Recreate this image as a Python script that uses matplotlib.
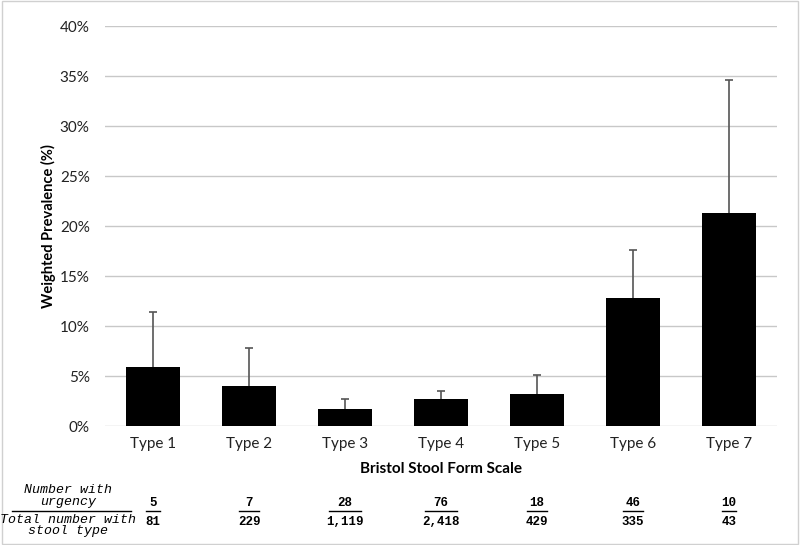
import matplotlib
matplotlib.use("Agg")
import matplotlib.pyplot as plt
from matplotlib.ticker import FuncFormatter
from matplotlib.patches import Rectangle

categories = ["Type 1", "Type 2", "Type 3", "Type 4", "Type 5", "Type 6", "Type 7"]
prevalence = [5.9, 4.0, 1.7, 2.7, 3.2, 12.8, 21.3]
upper_err = [5.5, 3.8, 1.0, 0.8, 1.9, 4.8, 13.3]
n_urgency = ["5", "7", "28", "76", "18", "46", "10"]
n_total = ["81", "229", "1,119", "2,418", "429", "335", "43"]

fig = plt.figure(figsize=(8.0, 5.45), dpi=100)
ax = fig.add_axes([105/800, 1 - 426/545, 672/800, 400/545])

x = list(range(len(categories)))
eb = ax.errorbar(x, prevalence, yerr=[[0]*len(x), upper_err], fmt="none",
                 ecolor="#555555", elinewidth=1.2, capsize=3, capthick=1.2, zorder=2)
caps = eb[1]
if len(caps) == 2:
    caps[0].set_visible(False)
ax.bar(x, prevalence, width=0.57, color="black", zorder=3)

ax.set_xlim(-0.5, len(x) - 0.5)
ax.set_ylim(0, 40)
ax.set_yticks(range(0, 41, 5))
ax.yaxis.set_major_formatter(FuncFormatter(lambda v, p: f"{int(v)}%"))
ax.grid(axis="y", color="#c8c8c8", linewidth=1, zorder=0)
for s in ax.spines.values():
    s.set_visible(False)
ax.tick_params(axis="both", length=0, labelsize=11, colors="#222222", pad=8)
ax.tick_params(axis="y", pad=11)
ax.set_xticks(x)
ax.set_xticklabels(categories, family="Lato")
for lab in ax.get_yticklabels():
    lab.set_family("Lato")

ax.set_ylabel("Weighted Prevalence (%)", fontsize=10.5, fontweight="bold",
              family="Lato", labelpad=3)
ax.set_xlabel("Bristol Stool Form Scale", fontsize=11, fontweight="bold",
              family="Lato", labelpad=8)

# bottom table
def fy(py):
    return 1 - py / 545

mono = "Liberation Mono"
fig.text(68/800, fy(490), "Number with", ha="center", va="center",
         fontsize=9.5, style="italic", family=mono)
fig.text(68/800, fy(502), "urgency", ha="center", va="center",
         fontsize=9.5, style="italic", family=mono)
fig.add_artist(plt.Line2D([12/800, 131/800], [fy(511), fy(511)], color="black", lw=1))
fig.text(68/800, fy(520), "Total number with", ha="center", va="center",
         fontsize=9.5, style="italic", family=mono)
fig.text(68/800, fy(531), "stool type", ha="center", va="center",
         fontsize=9.5, style="italic", family=mono)

for i in x:
    xc = ax.transData.transform((i, 0))[0] / fig.bbox.width
    fig.text(xc, fy(503), n_urgency[i], ha="center", va="center",
             fontsize=9, fontweight="bold", family=mono)
    fig.text(xc, fy(522), n_total[i], ha="center", va="center",
             fontsize=9, fontweight="bold", family=mono)
    w = max(len(n_urgency[i]), len(n_total[i])) * 6.5 / 800
    w = max(w, 14/800)
    fig.add_artist(plt.Line2D([xc - w/2, xc + w/2], [fy(511), fy(511)], color="black", lw=1))

fig.add_artist(Rectangle((0.002, 0.002), 0.996, 0.996, transform=fig.transFigure,
                         fill=False, edgecolor="#d0d0d0", lw=1))

fig.savefig("out.png", dpi=100)
